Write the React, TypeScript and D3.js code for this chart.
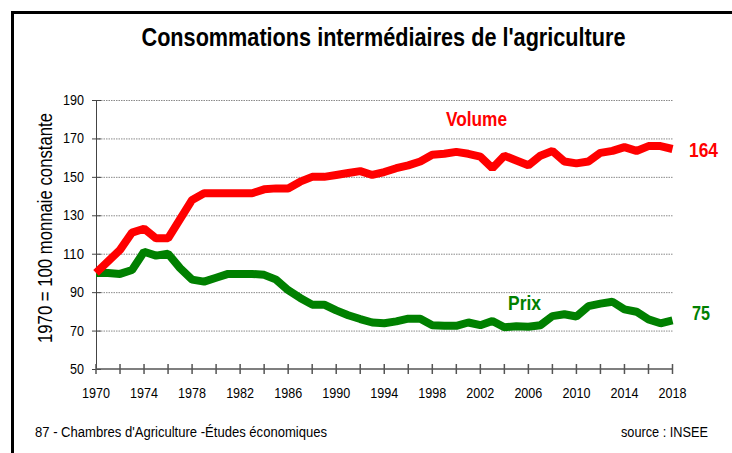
import * as d3 from "d3";
import { useEffect, useRef } from "react";

const years = [
  1970, 1971, 1972, 1973, 1974, 1975, 1976, 1977, 1978, 1979, 1980, 1981, 1982,
  1983, 1984, 1985, 1986, 1987, 1988, 1989, 1990, 1991, 1992, 1993, 1994, 1995,
  1996, 1997, 1998, 1999, 2000, 2001, 2002, 2003, 2004, 2005, 2006, 2007, 2008,
  2009, 2010, 2011, 2012, 2013, 2014, 2015, 2016, 2017, 2018,
];

// indice volume (1970 = 100)
const volume = [
  100, 106, 112, 121, 123, 118, 118, 128, 138, 141.5, 141.5, 141.5, 141.5,
  141.5, 143.5, 144, 144, 147.5, 150, 150, 151, 152, 153, 151, 152.5, 154.5,
  156, 158, 161.5, 162, 163, 162, 160.5, 154.5, 161, 158.5, 156, 161, 163.5,
  158, 157, 158, 162.5, 163.5, 165.5, 163.5, 166, 166, 164.5,
];

// indice prix (1970 = 100, monnaie constante)
const prix = [
  100, 100, 99.5, 101.5, 111, 109, 110, 102.5, 96.5, 95.5, 97.5, 99.5, 99.5,
  99.5, 99, 96.5, 91, 87, 83.5, 83.5, 80.5, 78, 76, 74.2, 73.8, 74.8, 76.2,
  76.2, 72.8, 72.5, 72.5, 74.2, 72.8, 75, 71.7, 72.3, 72, 72.8, 77.5, 78.5,
  77.3, 82.7, 84, 85, 81, 79.8, 75.8, 73.8, 75.3,
];

const yTicks = [50, 70, 90, 110, 130, 150, 170, 190];
const xTickLabels = [
  1970, 1974, 1978, 1982, 1986, 1990, 1994, 1998, 2002, 2006, 2010, 2014, 2018,
];

const width = 732;
const height = 453;
const font = "'Liberation Sans', Arial, sans-serif";

const App = () => {
  const ref = useRef<SVGSVGElement>(null);

  useEffect(() => {
    const svg = d3.select(ref.current);
    svg.selectAll("*").remove();

    const x = d3.scaleLinear().domain([1970, 2018]).range([96, 672.5]);
    const y = d3.scaleLinear().domain([50, 190]).range([369, 100]);

    svg
      .append("rect")
      .attr("width", width)
      .attr("height", height)
      .attr("fill", "white");

    // cadre
    svg
      .append("rect")
      .attr("x", 12.5)
      .attr("y", 12.5)
      .attr("width", 740)
      .attr("height", 460)
      .attr("fill", "none")
      .attr("stroke", "black")
      .attr("stroke-width", 3);

    svg
      .append("text")
      .attr("x", 383.5)
      .attr("y", 46)
      .attr("text-anchor", "middle")
      .attr("font-family", font)
      .attr("font-weight", "bold")
      .attr("font-size", 25)
      .attr("textLength", 484)
      .attr("lengthAdjust", "spacingAndGlyphs")
      .text("Consommations intermédiaires de l'agriculture");

    // grille
    svg
      .append("g")
      .selectAll("line")
      .data(yTicks.filter((d) => d > 50))
      .join("line")
      .attr("x1", x(1970))
      .attr("x2", x(2018))
      .attr("y1", (d) => y(d) + 0.5)
      .attr("y2", (d) => y(d) + 0.5)
      .attr("stroke", "#8a8a8a")
      .attr("stroke-width", 1)
      .attr("stroke-dasharray", "1.5,1");

    // axe y
    const gy = svg.append("g").attr("stroke", "#444");
    gy.append("line")
      .attr("x1", 96.5)
      .attr("x2", 96.5)
      .attr("y1", y(190))
      .attr("y2", y(50));
    gy.selectAll("line.tick")
      .data(yTicks)
      .join("line")
      .attr("class", "tick")
      .attr("x1", 92)
      .attr("x2", 101)
      .attr("y1", (d) => y(d) + 0.5)
      .attr("y2", (d) => y(d) + 0.5);
    svg
      .append("g")
      .selectAll("text")
      .data(yTicks)
      .join("text")
      .attr("x", 84)
      .attr("y", (d) => y(d) + 5)
      .attr("text-anchor", "end")
      .attr("font-family", font)
      .attr("font-size", 14.5)
      .attr("textLength", (d) => (d >= 100 ? 21 : 14))
      .attr("lengthAdjust", "spacingAndGlyphs")
      .text((d) => d);

    // axe x
    const gx = svg.append("g").attr("stroke", "#555").attr("stroke-width", 1.5);
    gx.append("line")
      .attr("x1", x(1970))
      .attr("x2", x(2018))
      .attr("y1", 369)
      .attr("y2", 369);
    gx.selectAll("line.tick")
      .data(years.filter((d) => (d - 1970) % 2 === 0))
      .join("line")
      .attr("class", "tick")
      .attr("x1", (d) => x(d))
      .attr("x2", (d) => x(d))
      .attr("y1", 364)
      .attr("y2", 374);
    svg
      .append("g")
      .selectAll("text")
      .data(xTickLabels)
      .join("text")
      .attr("x", (d) => x(d))
      .attr("y", 398)
      .attr("text-anchor", "middle")
      .attr("font-family", font)
      .attr("font-size", 14.5)
      .attr("textLength", 28)
      .attr("lengthAdjust", "spacingAndGlyphs")
      .text((d) => d);

    svg
      .append("text")
      .attr("transform", "translate(52,228) rotate(-90)")
      .attr("text-anchor", "middle")
      .attr("font-family", font)
      .attr("font-size", 21)
      .attr("textLength", 230)
      .attr("lengthAdjust", "spacingAndGlyphs")
      .text("1970 = 100 monnaie constante");

    const line = d3
      .line<number>()
      .x((_, i) => x(years[i]))
      .y((d) => y(d));

    svg
      .append("path")
      .datum(prix)
      .attr("d", line)
      .attr("fill", "none")
      .attr("stroke", "#008000")
      .attr("stroke-width", 8)
      .attr("stroke-linejoin", "bevel");

    svg
      .append("path")
      .datum(volume)
      .attr("d", line)
      .attr("fill", "none")
      .attr("stroke", "#ff0000")
      .attr("stroke-width", 8)
      .attr("stroke-linejoin", "bevel");

    const labels = [
      { t: "Volume", x: 446, y: 126, w: 61, c: "#ff0000" },
      { t: String(Math.floor(volume[volume.length - 1])), x: 689, y: 157, w: 29, c: "#ff0000" },
      { t: "Prix", x: 508, y: 310, w: 33, c: "#008000" },
      { t: String(Math.floor(prix[prix.length - 1])), x: 692, y: 320, w: 18, c: "#008000" },
    ];
    svg
      .append("g")
      .selectAll("text")
      .data(labels)
      .join("text")
      .attr("x", (d) => d.x)
      .attr("y", (d) => d.y)
      .attr("fill", (d) => d.c)
      .attr("font-family", font)
      .attr("font-weight", "bold")
      .attr("font-size", 20)
      .attr("textLength", (d) => d.w)
      .attr("lengthAdjust", "spacingAndGlyphs")
      .text((d) => d.t);

    svg
      .append("text")
      .attr("x", 35)
      .attr("y", 437)
      .attr("font-family", font)
      .attr("font-size", 14)
      .attr("textLength", 292)
      .attr("lengthAdjust", "spacingAndGlyphs")
      .text("87 - Chambres d'Agriculture -Études économiques");

    svg
      .append("text")
      .attr("x", 621)
      .attr("y", 437)
      .attr("font-family", font)
      .attr("font-size", 14)
      .attr("textLength", 87)
      .attr("lengthAdjust", "spacingAndGlyphs")
      .text("source : INSEE");
  }, []);

  return (
    <svg
      ref={ref}
      width={width}
      height={height}
      style={{ position: "absolute", left: 0, top: 0, display: "block" }}
    />
  );
};

export default App;
